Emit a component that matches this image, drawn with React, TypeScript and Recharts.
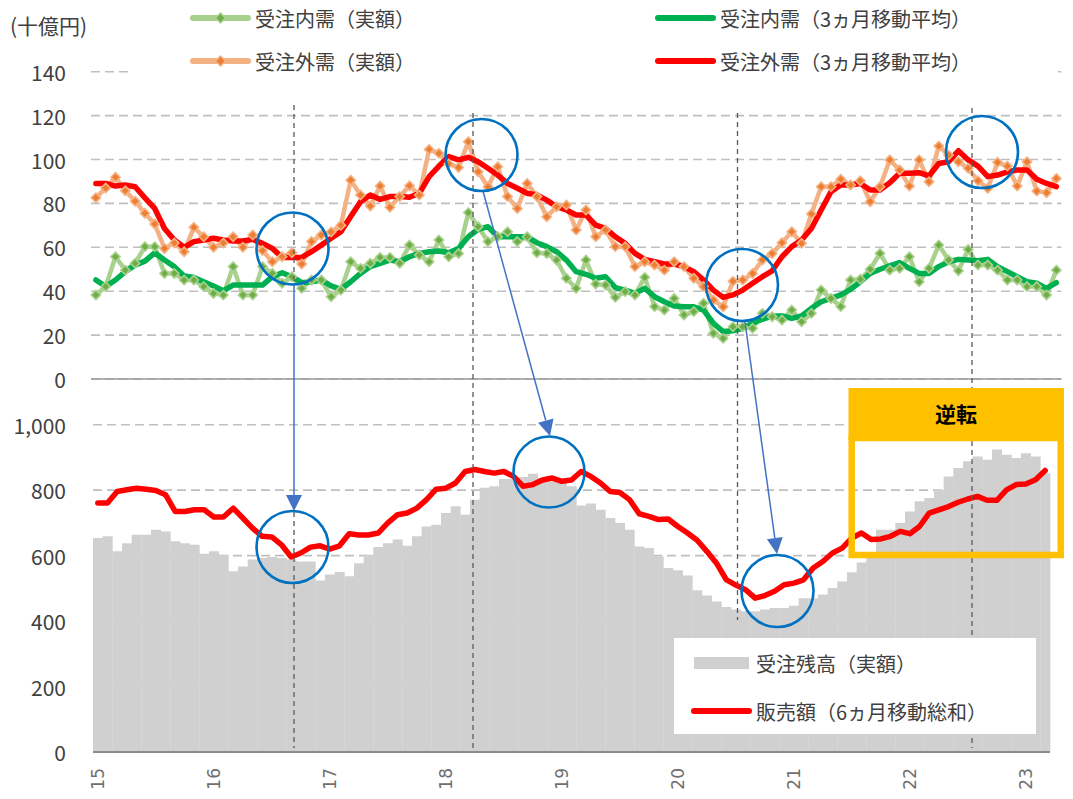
import React from 'react';
import { ComposedChart, Line, Bar, XAxis, YAxis, CartesianGrid } from 'recharts';

const JP = '"Noto Sans CJK JP", "Noto Sans", sans-serif';

// Categories: monthly, Jan 2015 .. Mar 2023
const categories: string[] = [];
for (let y = 2015; y <= 2023; y++) {
  for (let m = 1; m <= 12; m++) {
    if (y === 2023 && m > 3) break;
    categories.push(`${y}/${m}`);
  }
}
const yearLabels = ['15', '16', '17', '18', '19', '20', '21', '22', '23'];
const topTicks = [0, 20, 40, 60, 80, 100, 120, 140];
const bottomTicks = [0, 200, 400, 600, 800, 1000];

// 受注外需（実額）
const gaiActual = [82.6, 87, 91.9, 85.8, 81, 75.5, 70.6, 59.5, 62, 58,
  69.1, 64.8, 60, 62, 64.8, 60, 65.6, 58.5, 53.4, 55.7,
  57.5, 52.4, 62.6, 65.6, 67, 70, 90.6, 83.8, 78.8, 87.9,
  78.2, 83.1, 88, 83.8, 104.6, 102.8, 98, 96.4, 108.1, 94.4,
  87.6, 96.7, 83.1, 77.7, 89.1, 83.1, 73.9, 78.5, 79.3, 67.9,
  77, 64.8, 67.9, 60.3, 60.3, 51.2, 53.4, 51.9, 49.6, 53.4,
  51.2, 45.9, 42.1, 36, 32.9, 44.5, 45.1, 48.1, 54.2, 57.2,
  62.1, 67.1, 61.8, 75.2, 87.6, 87.6, 91, 88.4, 90.3, 80.8,
  87.6, 99.8, 95.2, 87.9, 99.8, 89.9, 106.1, 102, 99, 96,
  90.3, 86.9, 98.7, 97, 87.9, 99, 85.6, 84.9, 91.4];

// 受注外需（3ヵ月移動平均）
const gaiAvg = [89.1, 89.1, 87.9, 88.4, 87.6, 82.5, 77.7, 68.6, 63.3, 60,
  62.6, 63.3, 64.1, 63.3, 62.9, 62.9, 63.6, 61.8, 59.5, 55.4,
  55.4, 55.4, 58, 61, 64.1, 67.1, 74, 80.8, 83.8, 81.8,
  83.1, 83.1, 82.8, 84.6, 92.2, 97, 101.3, 99.8, 101, 99,
  96, 92.9, 89.1, 86.9, 84.6, 83.8, 81.5, 78.5, 77, 74.7,
  74.7, 70.1, 68.6, 64.8, 61.8, 57.2, 54.5, 53.4, 52.4, 52.4,
  51.2, 48.9, 45.1, 40.5, 37.2, 38.3, 40.5, 43.6, 46.6, 49.3,
  55.7, 60.3, 63.3, 68.6, 77, 85.3, 88.4, 88.4, 89.1, 86.1,
  86.1, 89.4, 93.7, 93.7, 94, 92.5, 98.2, 99, 104, 99.8,
  97, 92.2, 92.9, 94.4, 95.2, 95.2, 91, 89.1, 87.6];

// 受注内需（実額）
const naiActual = [38.3, 42.1, 55.7, 49.6, 52.7, 60.3, 60.3, 48.1, 48.1, 45.1,
  45.1, 42.1, 39, 38.3, 51.2, 38.3, 38.3, 51.2, 48.1, 43.6,
  46.6, 41.3, 45.1, 45.1, 37.5, 40.5, 53.4, 50.4, 52.7, 55.4,
  55.4, 52.7, 61, 56.5, 53.4, 63.3, 55.7, 57.2, 75.8, 69.4,
  62.6, 64.8, 67.1, 62.6, 64.8, 57.5, 57.2, 54.2, 45.9, 41.3,
  54.2, 43.3, 42.8, 37.2, 39.8, 38.3, 46.3, 33, 31.4, 36.7,
  29.2, 30.7, 34.5, 20.8, 18.5, 23.8, 23.8, 23.1, 29.9, 28.4,
  26.9, 31.4, 26.1, 29.9, 40.5, 36.7, 33, 45.1, 45.4, 50,
  57.2, 49.6, 50.4, 55.7, 44.3, 50.4, 61, 54.2, 49.3, 59,
  51.9, 51.9, 49.6, 45.1, 45.1, 42.1, 42.1, 38.3, 49.6];

// 受注内需（3ヵ月移動平均）
const naiAvg = [45.1, 42.1, 45.1, 48.9, 51.9, 53.7, 57.5, 54.2, 51.2, 46.9,
  46.2, 44.3, 42.4, 40.2, 42.8, 42.8, 42.8, 42.8, 46.6, 48.4,
  46.6, 43.9, 44.3, 45.1, 42.4, 40.8, 44.3, 48.1, 51.2, 52.7,
  54.2, 53.4, 55.7, 57.2, 58, 58.3, 57.5, 59.5, 64.8, 68.2,
  69.4, 64.8, 64.8, 64.8, 64.8, 62.1, 60.3, 58, 54.2, 48.9,
  47.7, 45.9, 46.6, 41.6, 40.5, 39, 41.3, 37.5, 35.2, 33.3,
  32.9, 32.9, 31.4, 25.4, 21.6, 22, 23.1, 25.4, 27.2, 28.7,
  28.7, 27.6, 28.7, 32.2, 35.2, 36.7, 38.3, 40.8, 44.3, 48.1,
  50, 51.5, 53, 50.4, 48.1, 48.1, 51.2, 53.4, 54.5, 54.2,
  53.9, 54.5, 51.2, 48.9, 46.6, 44.3, 43.6, 41.3, 43.9];

// 受注残高（実額）
const backlog = [654, 659, 613, 638, 664, 664, 679, 674, 644, 638,
  633, 606, 613, 603, 552, 567, 588, 593, 596, 593,
  588, 582, 582, 524, 542, 550, 537, 577, 603, 626,
  638, 649, 630, 659, 689, 694, 730, 751, 725, 771,
  807, 812, 834, 834, 840, 850, 837, 827, 822, 812,
  753, 759, 740, 715, 700, 679, 628, 623, 598, 562,
  555, 539, 494, 478, 460, 443, 435, 430, 430, 435,
  440, 440, 447, 470, 470, 481, 501, 521, 549, 579,
  608, 679, 679, 700, 735, 766, 776, 801, 842, 868,
  888, 903, 893, 924, 908, 898, 913, 903, 852];

// 販売額（6ヵ月移動総和）
const sales = [761, 761, 796, 801, 806, 803, 799, 786, 735, 735,
  740, 740, 718, 718, 745, 715, 684, 659, 657, 633,
  596, 608, 626, 630, 620, 630, 667, 663, 663, 669,
  700, 725, 730, 745, 771, 803, 806, 822, 857, 863,
  857, 852, 857, 842, 812, 817, 831, 837, 827, 831,
  857, 842, 822, 796, 793, 771, 728, 720, 710, 712,
  689, 669, 647, 613, 577, 527, 510, 496, 470, 478,
  491, 511, 516, 526, 562, 582, 608, 623, 654, 669,
  649, 651, 659, 674, 667, 689, 730, 740, 750, 763,
  773, 781, 769, 769, 801, 817, 819, 832, 860];

const topData = categories.map((month, i) => ({
  month,
  naiActual: naiActual[i],
  naiAvg: naiAvg[i],
  gaiActual: gaiActual[i],
  gaiAvg: gaiAvg[i],
}));

const bottomData = categories.map((month, i) => ({
  month,
  backlog: backlog[i],
  sales: sales[i],
}));

const C = {
  naiAct: '#A9D18E',
  naiDot: '#70AD47',
  naiAvg: '#00B050',
  gaiAct: '#F4B183',
  gaiDot: '#ED7D31',
  gaiAvg: '#FF0000',
  bar: '#D0D0D0',
  grid: '#BFBFBF',
  text: '#404040',
  circle: '#0070C0',
  arrow: '#4472C4',
  gold: '#FFC000',
};

const diamondDot = (fill: string, edge: string) => (p: any) => {
  const { cx, cy, index } = p;
  if (cx == null || cy == null) return <g key={`d${index}`} />;
  const r = 4.6;
  return (
    <polygon
      key={`d${index}`}
      points={`${cx},${cy - r} ${cx + r},${cy} ${cx},${cy + r} ${cx - r},${cy}`}
      fill={fill}
      stroke={edge}
      strokeWidth={1.6}
    />
  );
};

const YTick = (p: any) => {
  const v = p.payload.value as number;
  return (
    <text x={p.x} y={p.y} textAnchor="end" dominantBaseline="central" fontSize={21} fill={C.text} fontFamily={JP}>
      {v.toLocaleString('en-US')}
    </text>
  );
};

const XTick = (p: any) => {
  const v = String(p.payload.value);
  const idx = Number(v.split('/')[0]) - 2015;
  const label = yearLabels[idx] ?? '';
  return (
    <text
      x={p.x}
      y={p.y}
      transform={`rotate(-90, ${p.x}, ${p.y})`}
      textAnchor="end"
      dy="0.36em"
      fontSize={17}
      fill="#6F6F6F"
      fontFamily='"DejaVu Sans", sans-serif'
    >
      {label}
    </text>
  );
};

const Arrow = ({ x1, y1, x2, y2 }: { x1: number; y1: number; x2: number; y2: number }) => {
  const dx = x2 - x1;
  const dy = y2 - y1;
  const len = Math.sqrt(dx * dx + dy * dy);
  const ux = dx / len;
  const uy = dy / len;
  const hl = 16;
  const hw = 8;
  const bx = x2 - ux * hl;
  const by = y2 - uy * hl;
  return (
    <g>
      <line x1={x1} y1={y1} x2={bx} y2={by} stroke={C.arrow} strokeWidth={1.5} />
      <polygon
        points={`${x2},${y2} ${bx - uy * hw},${by + ux * hw} ${bx + uy * hw},${by - ux * hw}`}
        fill={C.arrow}
      />
    </g>
  );
};

const LegendLine = ({ x, y, color, dot, edge }: { x: number; y: number; color: string; dot?: string; edge?: string }) => (
  <g>
    <line x1={x} y1={y} x2={x + 55} y2={y} stroke={color} strokeWidth={6} strokeLinecap="round" />
    {dot && (
      <polygon
        points={`${x + 27.5},${y - 5} ${x + 32.5},${y} ${x + 27.5},${y + 5} ${x + 22.5},${y}`}
        fill={dot}
        stroke={edge}
        strokeWidth={1.5}
      />
    )}
  </g>
);

export default function App() {
  const legendText = { fontSize: 20, fill: C.text, fontFamily: JP, dominantBaseline: 'central' as const };
  const guide = { stroke: '#595959', strokeWidth: 1.3, strokeDasharray: '5 4' };
  return (
    <div style={{ position: 'absolute', left: 0, top: 0, width: 1073, height: 799, background: '#fff', fontFamily: JP }}>
      <div style={{ position: 'absolute', left: 0, top: 395 }}>
        <ComposedChart width={1073} height={404} data={bottomData} margin={{ top: 29.7, right: 23, bottom: 0, left: 0 }} barCategoryGap={0} barGap={0}>
          <XAxis dataKey="month" height={47} interval={11} tickLine={false} tickSize={0} tickMargin={16} axisLine={{ stroke: '#8C8C8C', strokeWidth: 2 }} tick={XTick} />
          <YAxis width={93} domain={[0, 1000]} ticks={bottomTicks} interval={0} axisLine={false} tickLine={false} tickSize={0} tickMargin={27} tick={YTick} />
          <Bar dataKey="backlog" fill={C.bar} isAnimationActive={false} />
          <CartesianGrid vertical={false} stroke={C.grid} strokeDasharray="9 5" strokeWidth={1.6} />
          <Line dataKey="sales" stroke="#FF0000" strokeWidth={5.5} dot={false} isAnimationActive={false} strokeLinejoin="round" strokeLinecap="round" />
        </ComposedChart>
      </div>
      <div style={{ position: 'absolute', left: 0, top: 0 }}>
        <ComposedChart width={1073} height={405} data={topData} margin={{ top: 71.7, right: 11.7, bottom: 25, left: 0 }} style={{ overflow: 'visible' }}>
          <CartesianGrid vertical={false} stroke={C.grid} strokeDasharray="9 5" strokeWidth={1.6} />
          <XAxis dataKey="month" scale="band" height={1} tick={false} tickLine={false} axisLine={{ stroke: '#9A9A9A', strokeWidth: 1.6 }} interval={0} />
          <YAxis width={91} domain={[0, 140]} ticks={topTicks} interval={0} axisLine={false} tickLine={false} tickSize={0} tickMargin={25} tick={YTick} />
          <Line dataKey="naiActual" stroke={C.naiAct} strokeWidth={4.5} dot={diamondDot(C.naiDot, C.naiAct)} isAnimationActive={false} strokeLinejoin="round" />
          <Line dataKey="gaiActual" stroke={C.gaiAct} strokeWidth={4.5} dot={diamondDot(C.gaiDot, C.gaiAct)} isAnimationActive={false} strokeLinejoin="round" />
          <Line dataKey="naiAvg" stroke={C.naiAvg} strokeWidth={5.5} dot={false} isAnimationActive={false} strokeLinejoin="round" strokeLinecap="round" />
          <Line dataKey="gaiAvg" stroke={C.gaiAvg} strokeWidth={5.5} dot={false} isAnimationActive={false} strokeLinejoin="round" strokeLinecap="round" />
        </ComposedChart>
      </div>
      <svg width={1073} height={799} style={{ position: 'absolute', left: 0, top: 0, pointerEvents: 'none' }}>
        {/* vertical guide lines */}
        <line x1={294} y1={105} x2={294} y2={284} {...guide} />
        <line x1={294} y1={512} x2={294} y2={748} {...guide} />
        <line x1={473} y1={113} x2={473} y2={748} {...guide} />
        <line x1={737.5} y1={113} x2={737.5} y2={620} {...guide} />
        <line x1={972} y1={108} x2={972} y2={748} {...guide} />
        {/* arrows */}
        <Arrow x1={294} y1={285} x2={294} y2={511} />
        <Arrow x1={483} y1={191} x2={550} y2={436} />
        <Arrow x1={745} y1={322} x2={777} y2={554} />
        {/* circles */}
        <circle cx={292.5} cy={248.5} r={36} fill="none" stroke={C.circle} strokeWidth={2.6} />
        <circle cx={481.5} cy={155} r={36} fill="none" stroke={C.circle} strokeWidth={2.6} />
        <circle cx={742} cy={285} r={36} fill="none" stroke={C.circle} strokeWidth={2.6} />
        <circle cx={982} cy={152} r={36} fill="none" stroke={C.circle} strokeWidth={2.6} />
        <circle cx={292.5} cy={547} r={36} fill="none" stroke={C.circle} strokeWidth={2.6} />
        <circle cx={549} cy={472} r={35.5} fill="none" stroke={C.circle} strokeWidth={2.6} />
        <circle cx={777.5} cy={591} r={36} fill="none" stroke={C.circle} strokeWidth={2.6} />
        {/* 逆転 box */}
        <rect x={851.7} y={438} width={209} height={117} fill="none" stroke={C.gold} strokeWidth={6.5} />
        <rect x={848.5} y={388} width={215.5} height={52} fill={C.gold} />
        <text x={956} y={413} textAnchor="middle" dominantBaseline="central" fontSize={21} fontWeight={700} fill="#000" fontFamily={JP}>
          逆転
        </text>
        {/* top legend */}
        <rect x={128} y={0} width={930} height={84} fill="#fff" />
        <text x={10} y={25} fontSize={21} fill={C.text} fontFamily={JP} dominantBaseline="central">(十億円)</text>
        <LegendLine x={193} y={18} color={C.naiAct} dot={C.naiDot} edge={C.naiAct} />
        <text x={255} y={18} {...legendText}>受注内需（実額）</text>
        <LegendLine x={658} y={18} color={C.naiAvg} />
        <text x={720} y={18} {...legendText}>受注内需（3ヵ月移動平均）</text>
        <LegendLine x={193} y={61} color={C.gaiAct} dot={C.gaiDot} edge={C.gaiAct} />
        <text x={255} y={61} {...legendText}>受注外需（実額）</text>
        <LegendLine x={658} y={61} color={C.gaiAvg} />
        <text x={720} y={61} {...legendText}>受注外需（3ヵ月移動平均）</text>
        {/* bottom legend */}
        <rect x={674} y={638} width={362} height={96} fill="#fff" />
        <rect x={694} y={657} width={55} height={12} fill={C.bar} />
        <text x={756} y={663} {...legendText}>受注残高（実額）</text>
        <line x1={694} y1={711} x2={749} y2={711} stroke="#FF0000" strokeWidth={6} strokeLinecap="round" />
        <text x={756} y={711} {...legendText}>販売額（6ヵ月移動総和）</text>
      </svg>
    </div>
  );
}
